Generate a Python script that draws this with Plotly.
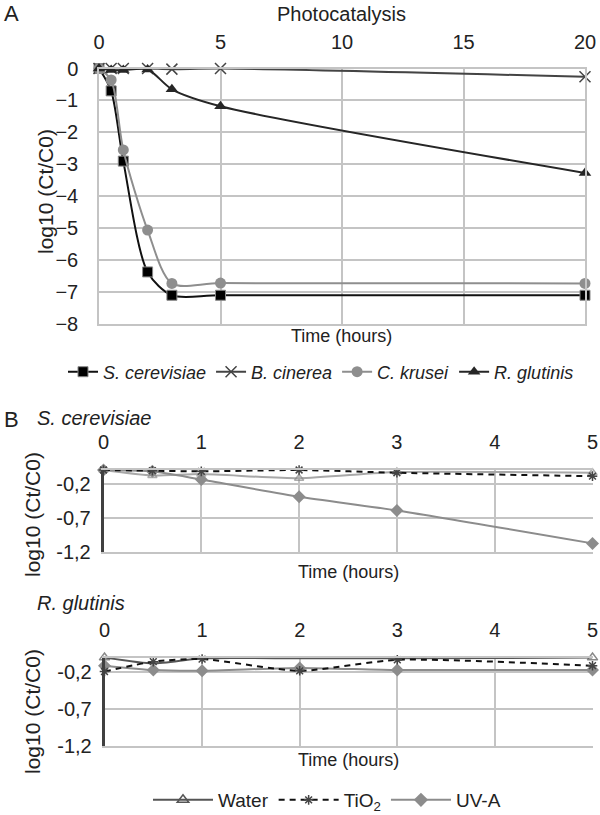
import plotly.graph_objects as go

# ---------------- Panel A data ----------------
time_a = [0, 0.5, 1, 2, 3, 5, 20]
s_cerevisiae = [0, -0.7, -2.9, -6.37, -7.1, -7.1, -7.1]
b_cinerea = [0, 0, 0, 0, -0.02, 0, -0.26]
c_krusei = [0, -0.36, -2.55, -5.06, -6.73, -6.72, -6.73]
r_glutinis = [0, -0.05, -0.05, -0.03, -0.65, -1.18, -3.27]
a_xticks = [0, 5, 10, 15, 20]
a_yticks = [0, -1, -2, -3, -4, -5, -6, -7, -8]

# ---------------- Panel B data ----------------
time_b = [0, 0.5, 1, 2, 3, 5]
sc_water = [0, -0.08, -0.06, -0.12, -0.03, -0.04]
sc_tio2 = [0, -0.01, -0.02, 0.0, -0.04, -0.09]
sc_uva = [0, -0.02, -0.14, -0.39, -0.59, -1.07]
rg_water = [0, -0.08, -0.01, -0.01, -0.01, 0]
rg_tio2 = [-0.19, -0.055, -0.02, -0.18, -0.03, -0.11]
rg_uva = [-0.11, -0.17, -0.18, -0.14, -0.17, -0.17]
b_xticks = [0, 1, 2, 3, 4, 5]
b_yticks = [-0.2, -0.7, -1.2]
b_yticklabels = ["-0,2", "-0,7", "-1,2"]

W, H = 600, 815
FONT = "Liberation Sans, Arial, sans-serif"
TXT = "#222222"
GRID = "#c4c4c4"


def px(x):
    return x / W


def py(y):
    return 1 - y / H


fig = go.Figure()

# ---- Panel A traces ----
fig.add_trace(go.Scatter(
    x=time_a, y=s_cerevisiae, name="<i>S. cerevisiae</i>", mode="lines+markers",
    line=dict(color="#111111", width=2, shape="spline", smoothing=0.8),
    marker=dict(symbol="square", size=10, color="#000000", line=dict(color="#888888", width=1)),
    xaxis="x", yaxis="y", legend="legend", cliponaxis=False))
fig.add_trace(go.Scatter(
    x=time_a, y=b_cinerea, name="<i>B. cinerea</i>", mode="lines+markers",
    line=dict(color="#444444", width=2, shape="spline", smoothing=0.8),
    marker=dict(symbol="x-thin-open", size=11, color="#444444", line=dict(color="#444444", width=1.5)),
    xaxis="x", yaxis="y", legend="legend", cliponaxis=False))
fig.add_trace(go.Scatter(
    x=time_a, y=c_krusei, name="<i>C. krusei</i>", mode="lines+markers",
    line=dict(color="#8e8e8e", width=2, shape="spline", smoothing=0.8),
    marker=dict(symbol="circle", size=11, color="#8e8e8e"),
    xaxis="x", yaxis="y", legend="legend", cliponaxis=False))
fig.add_trace(go.Scatter(
    x=time_a, y=r_glutinis, name="<i>R. glutinis</i>", mode="lines+markers",
    line=dict(color="#262626", width=2, shape="spline", smoothing=0.8),
    marker=dict(symbol="triangle-up", size=11, color="#262626"),
    xaxis="x", yaxis="y", legend="legend", cliponaxis=False))

# ---- Panel B traces ----
water_sizes = [8, 8, 8, 8, 8, 8]
rg_water_sizes = [9, 0, 0, 0, 0, 9]

fig.add_trace(go.Scatter(
    x=time_b, y=sc_water, name="Water", mode="lines+markers",
    line=dict(color="#a8a8a8", width=2, shape="spline", smoothing=0.6),
    marker=dict(symbol="triangle-up-open", size=water_sizes, color="#8a8a8a", line=dict(width=1.5)),
    xaxis="x2", yaxis="y2", legend="legend2", showlegend=False, cliponaxis=False))
fig.add_trace(go.Scatter(
    x=time_b, y=sc_uva, name="UV-A", mode="lines+markers",
    line=dict(color="#8c8c8c", width=2, shape="spline", smoothing=0.6),
    marker=dict(symbol="diamond", size=10, color="#8c8c8c"),
    xaxis="x2", yaxis="y2", legend="legend2", showlegend=False, cliponaxis=False))
fig.add_trace(go.Scatter(
    x=time_b, y=sc_tio2, name="TiO<sub>2</sub>", mode="lines+markers",
    line=dict(color="#111111", width=2, dash="6px,5px", shape="spline", smoothing=0.6),
    marker=dict(symbol="asterisk-open", size=8, color="#444444", line=dict(color="#444444", width=1.5)),
    xaxis="x2", yaxis="y2", legend="legend2", showlegend=False, cliponaxis=False))

fig.add_trace(go.Scatter(
    x=time_b, y=rg_water, name="Water", mode="lines+markers",
    line=dict(color="#555555", width=2, shape="spline", smoothing=0.6),
    marker=dict(symbol="triangle-up-open", size=rg_water_sizes, color="#555555", line=dict(width=1.5)),
    xaxis="x3", yaxis="y3", legend="legend2", showlegend=False, cliponaxis=False))
fig.add_trace(go.Scatter(
    x=time_b, y=rg_uva, name="UV-A", mode="lines+markers",
    line=dict(color="#8c8c8c", width=2, shape="spline", smoothing=0.6),
    marker=dict(symbol="diamond", size=10, color="#8c8c8c"),
    xaxis="x3", yaxis="y3", legend="legend2", showlegend=False, cliponaxis=False))
fig.add_trace(go.Scatter(
    x=time_b, y=rg_tio2, name="TiO<sub>2</sub>", mode="lines+markers",
    line=dict(color="#111111", width=2, dash="6px,5px", shape="spline", smoothing=0.6),
    marker=dict(symbol="asterisk-open", size=8, color="#444444", line=dict(color="#444444", width=1.5)),
    xaxis="x3", yaxis="y3", legend="legend2", showlegend=False, cliponaxis=False))

# legend-only entries for panel B (order: Water, TiO2, UV-A)
fig.add_trace(go.Scatter(
    x=[None], y=[None], name="Water", mode="lines+markers",
    line=dict(color="#555555", width=2),
    marker=dict(symbol="triangle-up-open", size=10, color="#555555", line=dict(width=1.5)),
    xaxis="x3", yaxis="y3", legend="legend2"))
fig.add_trace(go.Scatter(
    x=[None], y=[None], name="TiO<sub>2</sub>", mode="lines+markers",
    line=dict(color="#111111", width=2, dash="6px,5px"),
    marker=dict(symbol="asterisk-open", size=8, color="#444444", line=dict(color="#444444", width=1.5)),
    xaxis="x3", yaxis="y3", legend="legend2"))
fig.add_trace(go.Scatter(
    x=[None], y=[None], name="UV-A", mode="lines+markers",
    line=dict(color="#8c8c8c", width=2),
    marker=dict(symbol="diamond", size=11, color="#8c8c8c"),
    xaxis="x3", yaxis="y3", legend="legend2"))

tickfont = dict(family=FONT, size=20, color=TXT)

# ---- Axes ----
fig.update_layout(
    xaxis=dict(domain=[px(99), px(585)], anchor="y", side="top", range=[0, 20],
               tickvals=a_xticks, showgrid=True, gridcolor=GRID, gridwidth=1.5,
               zeroline=False, showline=True, linecolor=GRID, linewidth=1.5, mirror=True,
               ticks="", tickfont=tickfont, ticklabelstandoff=10),
    yaxis=dict(domain=[py(324), py(68.5)], anchor="x", range=[-8, 0],
               tickvals=a_yticks, showgrid=True, gridcolor=GRID, gridwidth=1.5,
               zeroline=False, showline=True, linecolor=GRID, linewidth=1.5, mirror=True,
               ticks="", tickfont=tickfont, ticklabelstandoff=15),
    xaxis2=dict(domain=[px(103.5), px(592.5)], anchor="y2", side="top", range=[0, 5],
                tickvals=b_xticks, showgrid=True, gridcolor=GRID, gridwidth=1.5,
                zeroline=False, showline=True, linecolor=GRID, linewidth=1.5, mirror=True,
                ticks="", tickfont=tickfont, ticklabelstandoff=11),
    yaxis2=dict(domain=[py(552.3), py(470)], anchor="x2", range=[-1.2, 0],
                tickvals=b_yticks, ticktext=b_yticklabels, showgrid=True, gridcolor=GRID, gridwidth=1.5,
                zeroline=False, showline=True, linecolor="#404040", linewidth=2.5,
                ticks="", tickfont=tickfont, ticklabelstandoff=6),
    xaxis3=dict(domain=[px(104.5), px(592.5)], anchor="y3", side="top", range=[0, 5],
                tickvals=b_xticks, showgrid=True, gridcolor=GRID, gridwidth=1.5,
                zeroline=False, showline=True, linecolor=GRID, linewidth=1.5, mirror=True,
                ticks="", tickfont=tickfont, ticklabelstandoff=11),
    yaxis3=dict(domain=[py(745.7), py(657.6)], anchor="x3", range=[-1.2, 0],
                tickvals=b_yticks, ticktext=b_yticklabels, showgrid=True, gridcolor=GRID, gridwidth=1.5,
                zeroline=False, showline=True, linecolor="#404040", linewidth=2.5,
                ticks="", tickfont=tickfont, ticklabelstandoff=6),
)

fig.update_layout(
    width=W, height=H, margin=dict(l=0, r=0, t=0, b=0, autoexpand=False),
    paper_bgcolor="white", plot_bgcolor="white",
    font=dict(family=FONT, size=16, color=TXT),
    legend=dict(orientation="h", x=0.535, xanchor="center", y=py(372), yanchor="middle",
                font=dict(family=FONT, size=18, color=TXT), bgcolor="rgba(0,0,0,0)",
                itemwidth=30, tracegroupgap=0),
    legend2=dict(orientation="h", x=0.545, xanchor="center", y=py(800), yanchor="middle",
                 font=dict(family=FONT, size=19, color=TXT), bgcolor="rgba(0,0,0,0)",
                 itemwidth=60),
)

ann = []


def add_text(text, x, y, size=18, angle=0, xanchor="center", italic=False):
    if italic:
        text = "<i>" + text + "</i>"
    ann.append(dict(text=text, x=px(x), y=py(y), xref="paper", yref="paper",
                    showarrow=False, textangle=angle, xanchor=xanchor, yanchor="middle",
                    font=dict(family=FONT, size=size, color=TXT)))


add_text("A", 2, 13, size=22, xanchor="left")
add_text("Photocatalysis", 342, 14, size=20)
add_text("Time (hours)", 342, 336, size=18)
add_text("log10 (Ct/C0)", 46, 192, size=21, angle=-90)

add_text("B", 2, 419, size=22, xanchor="left")
add_text("S. cerevisiae", 35, 418, size=20, xanchor="left", italic=True)
add_text("Time (hours)", 348, 572, size=18)
add_text("log10 (Ct/C0)", 32, 515, size=21, angle=-90)

add_text("R. glutinis", 35, 603, size=20, xanchor="left", italic=True)
add_text("Time (hours)", 348, 760, size=18)
add_text("log10 (Ct/C0)", 32, 712, size=21, angle=-90)

fig.update_layout(annotations=ann)

fig.write_html("out.html", config={"displayModeBar": False},
               post_script="document.body.style.margin='0';document.body.style.padding='0';")
